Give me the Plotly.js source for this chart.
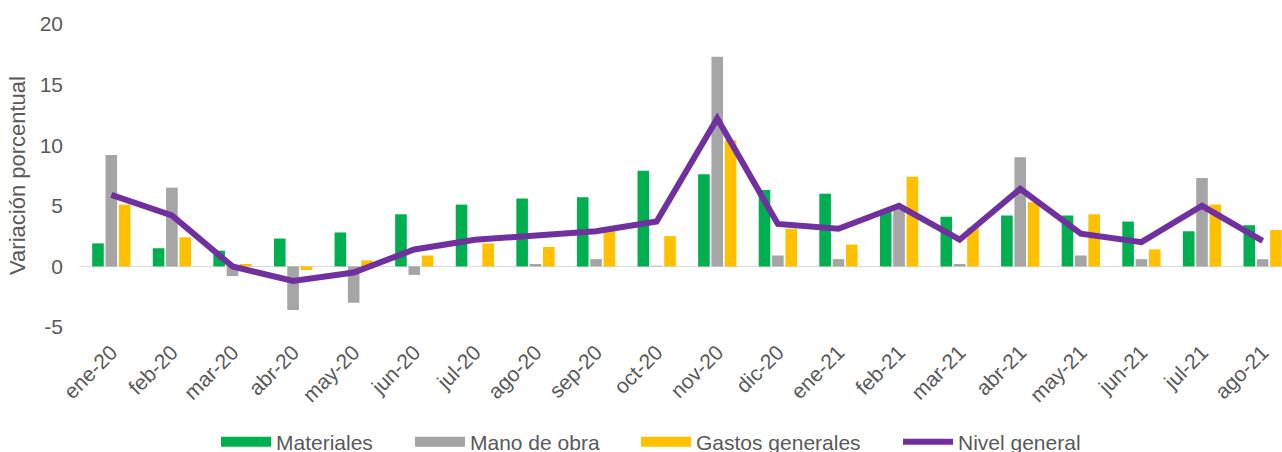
<!DOCTYPE html>
<html>
<head>
<meta charset="utf-8">
<script src="https://cdn.plot.ly/plotly-3.0.1.min.js"></script>
<style>html,body{margin:0;padding:0;background:#fff;overflow:hidden;}#chart{width:1282px;height:464px;}</style>
</head>
<body>
<div id="chart"></div>
<script>
const categories = ["ene-20","feb-20","mar-20","abr-20","may-20","jun-20","jul-20","ago-20","sep-20","oct-20","nov-20","dic-20","ene-21","feb-21","mar-21","abr-21","may-21","jun-21","jul-21","ago-21"];
const materiales = [1.9, 1.5, 1.3, 2.3, 2.8, 4.3, 5.1, 5.6, 5.7, 7.9, 7.6, 6.3, 6.0, 4.5, 4.1, 4.2, 4.2, 3.7, 2.9, 3.4];
const manoDeObra = [9.2, 6.5, -0.8, -3.6, -3.0, -0.7, 0.0, 0.2, 0.6, 0.05, 17.3, 0.9, 0.6, 4.9, 0.2, 9.0, 0.9, 0.6, 7.3, 0.6];
const gastosGenerales = [5.1, 2.4, 0.2, -0.3, 0.5, 0.9, 1.9, 1.6, 3.2, 2.5, 10.4, 3.1, 1.8, 7.4, 3.2, 5.3, 4.3, 1.4, 5.1, 3.0];
const nivelGeneral = [5.9, 4.2, 0.0, -1.2, -0.5, 1.4, 2.2, 2.5, 2.9, 3.7, 12.2, 3.5, 3.1, 5.0, 2.2, 6.4, 2.7, 2.0, 5.0, 2.1];
const seriesNames = ["Materiales", "Mano de obra", "Gastos generales", "Nivel general"];
const colors = ["#00b050", "#a5a5a5", "#ffc000", "#7030a0"];
const yTickVals = [-5, 0, 5, 10, 15, 20];
const yTickText = ["-5", "0", "5", "10", "15", "20"];

const barData = [materiales, manoDeObra, gastosGenerales];
const traces = [];
barData.forEach((vals, i) => {
  traces.push({
    type: "bar", x: categories, y: vals, name: seriesNames[i],
    marker: {color: colors[i]}, showlegend: false
  });
});
traces.push({
  type: "scatter", mode: "lines", x: categories, y: nivelGeneral, name: seriesNames[3],
  line: {color: colors[3], width: 6}, showlegend: false
});
const legendIds = ["legend", "legend2", "legend3", "legend4"];
for (let i = 0; i < 4; i++) {
  traces.push({
    type: "scatter", mode: "lines", x: [null], y: [null], name: seriesNames[i],
    line: {color: colors[i], width: i < 3 ? 11 : 6}, showlegend: true,
    legend: legendIds[i], hoverinfo: "skip"
  });
}

const font = {family: "Arial, 'Liberation Sans', sans-serif", size: 21, color: "#595959"};
const plotL = 81, plotW = 1201, plotB = 327, plotH = 303;
const px2x = p => (p - plotL) / plotW;
const legendY = -(442 - plotB) / plotH;
const legendStarts = [216, 410, 636, 898];

const layout = {
  width: 1282, height: 464,
  margin: {l: plotL, r: 0, t: 24, b: 464 - plotB},
  paper_bgcolor: "#fff", plot_bgcolor: "#fff",
  font: font,
  barmode: "group", bargap: 0.34, bargroupgap: 0.13,
  showlegend: true,
  xaxis: {
    type: "category", range: [-0.5, 19.32], tickangle: -45,
    showgrid: false, showline: false, zeroline: false, ticks: "",
    tickfont: font, ticklabelstandoff: 8
  },
  yaxis: {
    range: [-5, 20], tickvals: yTickVals, ticktext: yTickText, showgrid: false, showline: false,
    zeroline: true, zerolinecolor: "#d9d9d9", zerolinewidth: 1.5,
    ticks: "", tickfont: font, ticklabelstandoff: 17, automargin: true,
    title: {text: "Variación porcentual", font: Object.assign({}, font, {size: 22}), standoff: 7}
  }
};
legendIds.forEach((id, i) => {
  layout[id] = {
    orientation: "h", x: px2x(legendStarts[i]), xanchor: "left", y: legendY, yanchor: "middle",
    font: font, itemwidth: 50, bgcolor: "rgba(0,0,0,0)", borderwidth: 0
  };
});
Plotly.newPlot("chart", traces, layout, {displayModeBar: false, staticPlot: true});
</script>
</body>
</html>
